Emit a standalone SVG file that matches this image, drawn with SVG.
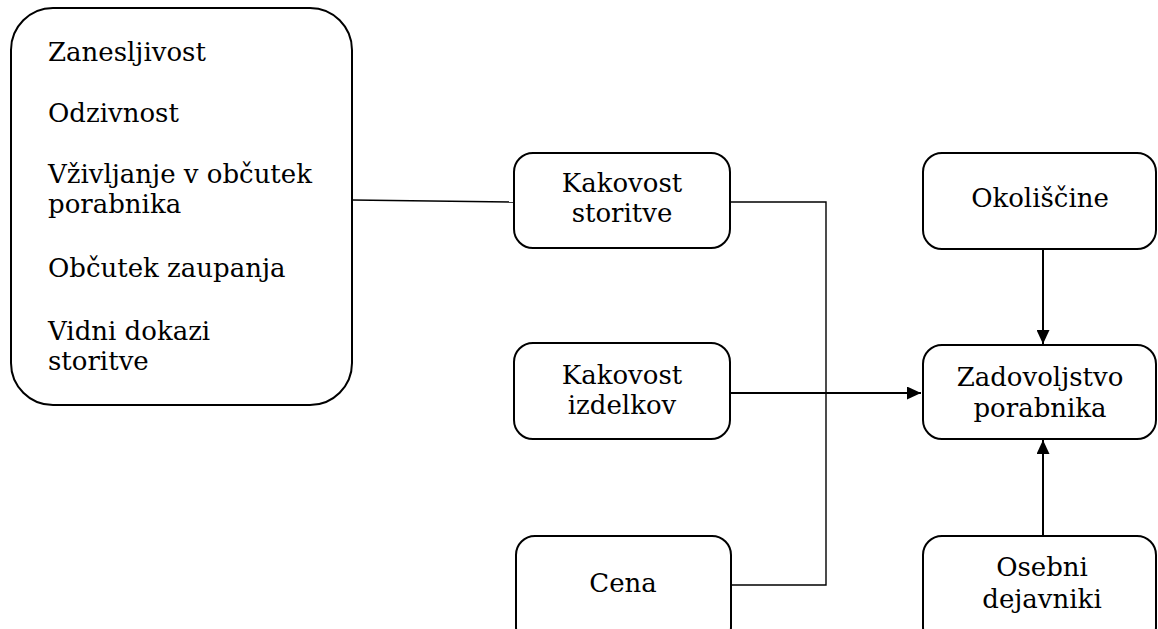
<svg xmlns="http://www.w3.org/2000/svg" width="1158" height="629" viewBox="0 0 1158 629">
<style>
.box{fill:#fff;stroke:#000;stroke-width:2}
.t{font-family:'DejaVu Serif',serif;font-size:26px;fill:#000}
.c{text-anchor:middle}
.thin{fill:none;stroke:#000;stroke-width:1.4}
.arr{fill:none;stroke:#000;stroke-width:2;marker-end:url(#ah)}
</style>
<defs>
<marker id="ah" markerUnits="userSpaceOnUse" markerWidth="15" markerHeight="13" refX="14" refY="6.5" orient="auto">
<path d="M0,0 L14,6.5 L0,13 Z" fill="#000"/>
</marker>
</defs>
<rect width="1158" height="629" fill="#fff"/>
<g id="connectors">
<line class="thin" x1="352" y1="200" x2="514" y2="202"/>
<polyline class="thin" points="730,202 826,202 826,585 731,585"/>
<line class="arr" x1="730" y1="393" x2="921" y2="393"/>
<line class="arr" x1="1043" y1="250" x2="1043" y2="344"/>
<line class="arr" x1="1043" y1="536" x2="1043" y2="440"/>
</g>
<g id="dimensions">
<rect class="box" x="11" y="8" width="341" height="397" rx="42" ry="42"/>
<text class="t" x="48" y="61">Zanesljivost</text>
<text class="t" x="48" y="122">Odzivnost</text>
<text class="t" x="48" y="183">Vživljanje v občutek</text>
<text class="t" x="48" y="213">porabnika</text>
<text class="t" x="48" y="277">Občutek zaupanja</text>
<text class="t" x="48" y="340">Vidni dokazi</text>
<text class="t" x="48" y="370">storitve</text>
</g>
<g id="kakovost-storitve">
<rect class="box" x="514" y="153" width="216" height="95" rx="19" ry="19"/>
<text class="t c" x="622" y="192">Kakovost</text>
<text class="t c" x="622" y="222">storitve</text>
</g>
<g id="kakovost-izdelkov">
<rect class="box" x="514" y="343" width="216" height="96" rx="19" ry="19"/>
<text class="t c" x="622" y="384">Kakovost</text>
<text class="t c" x="622" y="414">izdelkov</text>
</g>
<g id="cena">
<rect class="box" x="516" y="536" width="215" height="110" rx="19" ry="19"/>
<text class="t c" x="623" y="592">Cena</text>
</g>
<g id="okoliscine">
<rect class="box" x="923" y="153" width="233" height="96" rx="19" ry="19"/>
<text class="t c" x="1040" y="207">Okoliščine</text>
</g>
<g id="zadovoljstvo">
<rect class="box" x="923" y="345" width="233" height="94" rx="19" ry="19"/>
<text class="t c" x="1040" y="386">Zadovoljstvo</text>
<text class="t c" x="1040" y="417">porabnika</text>
</g>
<g id="osebni">
<rect class="box" x="923" y="536" width="233" height="110" rx="19" ry="19"/>
<text class="t c" x="1042" y="576">Osebni</text>
<text class="t c" x="1042" y="608">dejavniki</text>
</g>
</svg>
